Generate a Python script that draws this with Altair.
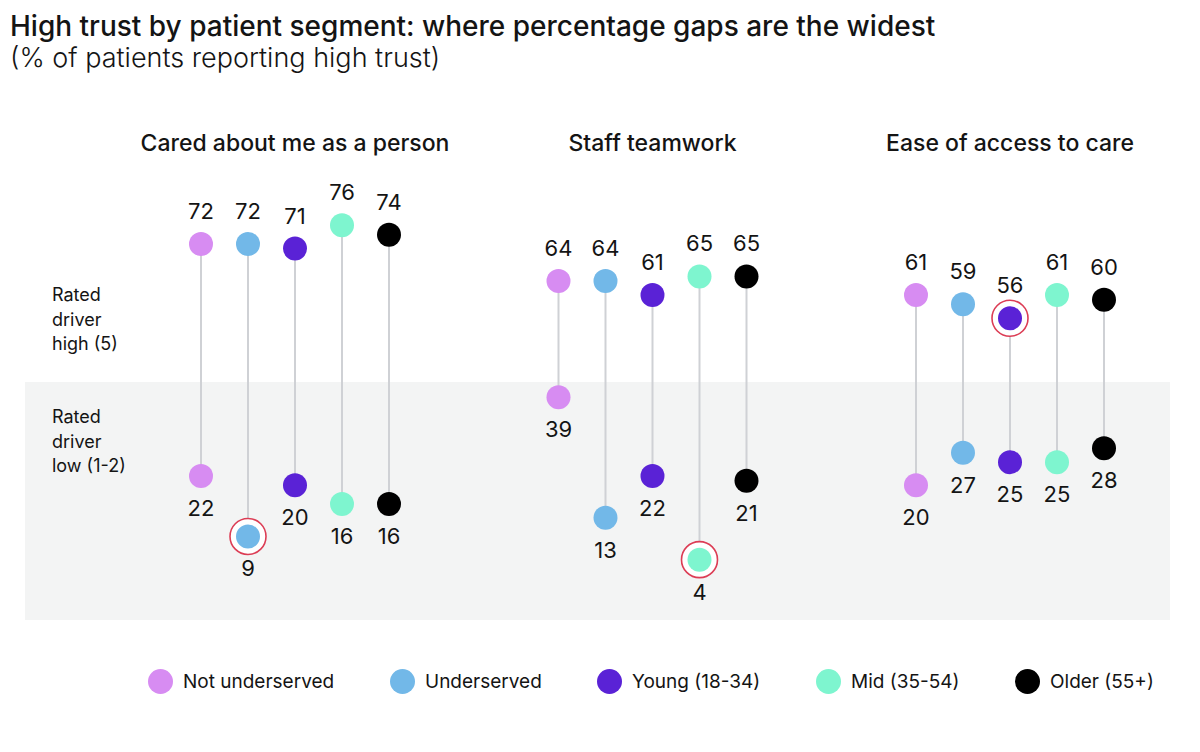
import altair as alt
import pandas as pd

# Drivers (panels) and patient segments
panels = ["Cared about me as a person", "Staff teamwork", "Ease of access to care"]
segments = ["Not underserved", "Underserved", "Young (18-34)", "Mid (35-54)", "Older (55+)"]
colors = ["#d78cf2", "#72b8e8", "#5a22d6", "#7ef5cf", "#000000"]

# % reporting high trust, per panel, in segment order
high_values = [
    [72, 72, 71, 76, 74],
    [64, 64, 61, 65, 65],
    [61, 59, 56, 61, 60],
]
low_values = [
    [22, 9, 20, 16, 16],
    [39, 13, 22, 4, 21],
    [20, 27, 25, 25, 28],
]

# Widest gaps, flagged with a ring: (panel, segment, level)
highlights = [
    ("Cared about me as a person", "Underserved", "low"),
    ("Staff teamwork", "Mid (35-54)", "low"),
    ("Ease of access to care", "Young (18-34)", "high"),
]

row_labels = ["Rated\ndriver\nhigh (5)", "Rated\ndriver\nlow (1-2)"]

FONT = "Inter"
INK = "#141414"

wide_rows, long_rows = [], []
for p, panel in enumerate(panels):
    for s, seg in enumerate(segments):
        wide_rows.append({"panel": panel, "segment": seg,
                          "high": high_values[p][s], "low": low_values[p][s]})
        for level, vals in (("high", high_values), ("low", low_values)):
            long_rows.append({"panel": panel, "segment": seg, "level": level,
                              "value": vals[p][s],
                              "flag": (panel, seg, level) in highlights})
wide = pd.DataFrame(wide_rows)
long = pd.DataFrame(long_rows)

x_enc = alt.X("panel:N", sort=panels, axis=None,
              scale=alt.Scale(domain=panels, range=[91.25, 1163.75],
                              paddingInner=0, paddingOuter=0))
xo_enc = alt.XOffset("segment:N", sort=segments,
                     scale=alt.Scale(domain=segments, range=[61.25, 296.25],
                                     paddingInner=0, paddingOuter=0))
y_scale = alt.Scale(domain=[-9, 103], nice=False, zero=False)

# grey band behind the "low" row
band = alt.Chart(pd.DataFrame({"k": [0]})).mark_rect(color="#f3f4f4").encode(
    x=alt.value(0), x2=alt.value(1145), y=alt.value(282), y2=alt.value(520)
)

row_text = alt.Chart(pd.DataFrame({"label": row_labels, "ypos": [196, 318]})).mark_text(
    align="left", baseline="middle", font=FONT, fontSize=18, color=INK,
    lineBreak="\n", lineHeight=24.5
).encode(x=alt.value(27), y=alt.Y("ypos:Q", scale=None), text="label:N")

headers = alt.Chart(pd.DataFrame({"panel": panels})).mark_text(
    font=FONT, fontSize=23, fontWeight=500, color=INK, baseline="middle"
).encode(x=x_enc, y=alt.value(44), text="panel:N")

stems = alt.Chart(wide).mark_rule(color="#cfd1d5", strokeWidth=2).encode(
    x=x_enc, xOffset=xo_enc,
    y=alt.Y("high:Q", scale=y_scale, axis=None), y2="low:Q"
)

rings = alt.Chart(long).transform_filter("datum.flag").mark_point(
    shape="circle", size=1296, filled=True, fill="white",
    stroke="#dc3d55", strokeWidth=1.6, opacity=1
).encode(x=x_enc, xOffset=xo_enc, y=alt.Y("value:Q", scale=y_scale, axis=None))

dots = alt.Chart(long).mark_circle(size=576, opacity=1).encode(
    x=x_enc, xOffset=xo_enc,
    y=alt.Y("value:Q", scale=y_scale, axis=None),
    color=alt.Color("segment:N", sort=segments,
                    scale=alt.Scale(domain=segments, range=colors),
                    legend=alt.Legend(
                        title=None, orient="none", direction="horizontal",
                        legendX=123, legendY=569, symbolType="circle",
                        symbolSize=625, symbolStrokeWidth=0, labelFont=FONT,
                        labelFontSize=19, labelColor=INK, labelOffset=10,
                        columnPadding=55, labelLimit=300))
)

labels_high = alt.Chart(long).transform_filter("datum.level == 'high'").mark_text(
    font=FONT, fontSize=22, color=INK, dy=-32, baseline="middle"
).encode(x=x_enc, xOffset=xo_enc,
         y=alt.Y("value:Q", scale=y_scale, axis=None), text="value:Q")

labels_low = alt.Chart(long).transform_filter("datum.level == 'low'").mark_text(
    font=FONT, fontSize=22, color=INK, dy=33, baseline="middle"
).encode(x=x_enc, xOffset=xo_enc,
         y=alt.Y("value:Q", scale=y_scale, axis=None), text="value:Q")

chart = alt.layer(
    band, row_text, headers, stems, rings, dots, labels_high, labels_low
).properties(
    width=1145, height=520,
    background="white",
    padding={"left": 25, "top": 100, "right": 30, "bottom": 132},
    autosize=alt.AutoSizeParams(type="none"),
    title=alt.TitleParams(
        text="High trust by patient segment: where percentage gaps are the widest",
        subtitle="(% of patients reporting high trust)",
        anchor="start", font=FONT, fontSize=28, fontWeight=500, color=INK,
        subtitleFont=FONT, subtitleFontSize=27, subtitleFontWeight=300,
        subtitleColor=INK, subtitlePadding=4, dx=-15, offset=28
    )
).configure_view(stroke=None, strokeWidth=0)

chart.save("out.html", embed_options={"renderer": "svg", "actions": False})
